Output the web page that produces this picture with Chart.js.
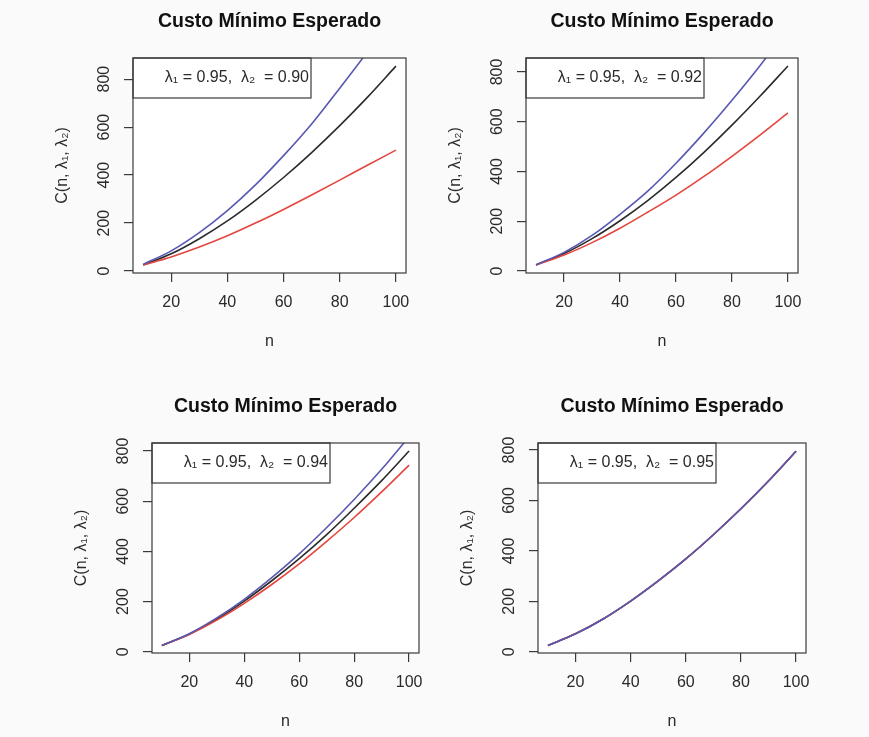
<!DOCTYPE html>
<html>
<head>
<meta charset="utf-8">
<script src="https://cdn.jsdelivr.net/npm/chart.js@4.4.1/dist/chart.umd.min.js"></script>
<style>
  html, body { margin: 0; padding: 0; background: #fafafa; }
  #wrap { position: relative; width: 869px; height: 737px; }
  .panel { position: absolute; }
</style>
</head>
<body>
<div id="wrap">
  <div class="panel" style="left:0px;top:0px"><canvas id="c1" width="434" height="368"></canvas></div>
  <div class="panel" style="left:434px;top:0px"><canvas id="c2" width="435" height="368"></canvas></div>
  <div class="panel" style="left:0px;top:368px"><canvas id="c3" width="434" height="369"></canvas></div>
  <div class="panel" style="left:434px;top:368px"><canvas id="c4" width="435" height="369"></canvas></div>
</div>
<script>
// n values and axis ticks
const nValues = [10, 20, 30, 40, 50, 60, 70, 80, 90, 100]
const xTicks = [20, 40, 60, 80, 100]
const yTicks = [0, 200, 400, 600, 800]

const titleText = 'Custo Mínimo Esperado'
const yTitle = 'C(n, λ₁, λ₂)'
const xTitle = 'n'
const lambda1 = '0.95'
const lambda2 = ['0.90', '0.92', '0.94', '0.95']

// C(n, lambda1, lambda2): black, red, blue curves
const black90 = [25, 72, 135, 209, 295, 390, 494, 606, 726, 854]
const red90   = [25, 59, 100, 147, 200, 257, 317, 379, 442, 504]
const blue90  = [28, 84, 160, 252, 359, 481, 613, 762, 916, 1081]

const black92 = [24, 70, 130, 202, 284, 376, 477, 586, 702, 824]
const red92   = [24, 64, 114, 172, 237, 305, 380, 461, 546, 635]
const blue92  = [25, 75, 143, 228, 322, 433, 555, 686, 825, 975]

const black94 = [25, 71, 130, 202, 283, 371, 467, 572, 682, 800]
const red94   = [25, 69, 126, 193, 268, 350, 440, 535, 637, 744]
const blue94  = [25, 72, 135, 209, 295, 390, 495, 607, 727, 857]

const black95 = [25, 71, 130, 201, 281, 368, 464, 567, 677, 795]
const red95   = [25, 71, 130, 201, 281, 368, 464, 567, 677, 795]
const blue95  = [25, 71, 130, 201, 281, 368, 464, 567, 677, 795]

const panels = [
  { id: 'c1', pad: { left: 53, right: 28, top: 58, bottom: 15 }, ymin: -8, ymax: 888, series: [black90, red90, blue90] },
  { id: 'c2', pad: { left: 12, right: 71, top: 58, bottom: 15 }, ymin: -8, ymax: 856, series: [black92, red92, blue92] },
  { id: 'c3', pad: { left: 72, right: 15, top: 75, bottom: 4 }, ymin: -5, ymax: 832, series: [black94, red94, blue94] },
  { id: 'c4', pad: { left: 24, right: 63, top: 75, bottom: 4 }, ymin: -5, ymax: 828, series: [black95, red95, blue95] }
]

const FONT = '"Liberation Sans", Arial, Helvetica, sans-serif'
const INK = '#2a2a2a'
const colors = ['#2b2b2b', '#e4463f', '#5858b2']

// box, title and legend drawn around the chart area
const decor = {
  id: 'decor',
  beforeDraw(chart) {
    const { ctx, chartArea: a } = chart
    ctx.save()
    ctx.fillStyle = '#ffffff'
    ctx.fillRect(a.left, a.top, a.right - a.left, a.bottom - a.top)
    ctx.restore()
  },
  afterDraw(chart, args, opts) {
    const { ctx, chartArea: a } = chart
    ctx.save()
    ctx.strokeStyle = '#3a3a3a'
    ctx.lineWidth = 1.2
    ctx.strokeRect(a.left, a.top, a.right - a.left, a.bottom - a.top)

    // legend box
    ctx.strokeRect(a.left, a.top, 178, 40)
    ctx.fillStyle = INK
    ctx.font = '16px ' + FONT
    ctx.textAlign = 'right'
    ctx.textBaseline = 'middle'
    ctx.fillText('λ₁ = ' + lambda1 + ',  λ₂  = ' + opts.lam2, a.left + 176, a.top + 20)

    // main title
    ctx.font = 'bold 19.5px ' + FONT
    ctx.textAlign = 'center'
    ctx.fillStyle = '#111'
    ctx.fillText(titleText, (a.left + a.right) / 2, a.top - 36)
    ctx.restore()
  }
}

panels.forEach((p, i) => {
  const datasets = [2, 1, 0].map(k => ({
    data: nValues.map((n, j) => ({ x: n, y: p.series[k][j] })),
    borderColor: colors[k],
    borderWidth: 1.6,
    pointRadius: 0,
    fill: false,
    cubicInterpolationMode: 'monotone',
    clip: 0
  }))

  new Chart(document.getElementById(p.id).getContext('2d'), {
    type: 'line',
    data: { datasets },
    plugins: [decor],
    options: {
      responsive: false,
      animation: false,
      events: [],
      layout: { padding: p.pad },
      plugins: {
        legend: { display: false },
        tooltip: { enabled: false },
        decor: { lam2: lambda2[i] }
      },
      scales: {
        x: {
          type: 'linear',
          min: 6.4,
          max: 103.6,
          afterBuildTicks: s => { s.ticks = xTicks.map(v => ({ value: v })) },
          afterFit: s => { s.height = 80 },
          border: { display: false },
          grid: { drawOnChartArea: false, drawTicks: true, tickLength: 9, color: '#3a3a3a', lineWidth: 1.2 },
          ticks: { autoSkip: false, maxRotation: 0, padding: 11, color: INK, font: { family: FONT, size: 16 } },
          title: { display: true, text: xTitle, color: INK, font: { family: FONT, size: 16 }, padding: { top: 0, bottom: 1.4 } }
        },
        y: {
          type: 'linear',
          min: p.ymin,
          max: p.ymax,
          afterBuildTicks: s => { s.ticks = yTicks.map(v => ({ value: v })) },
          afterFit: s => { s.width = 80 },
          border: { display: false },
          grid: { drawOnChartArea: false, drawTicks: true, tickLength: 9, color: '#3a3a3a', lineWidth: 1.2 },
          ticks: { autoSkip: false, minRotation: 90, maxRotation: 90, crossAlign: 'center', padding: 6, color: INK, font: { family: FONT, size: 16 } },
          title: { display: true, text: yTitle, color: INK, font: { family: FONT, size: 16 }, padding: { top: 0, bottom: 0 } }
        }
      }
    }
  })
})
</script>
</body>
</html>
